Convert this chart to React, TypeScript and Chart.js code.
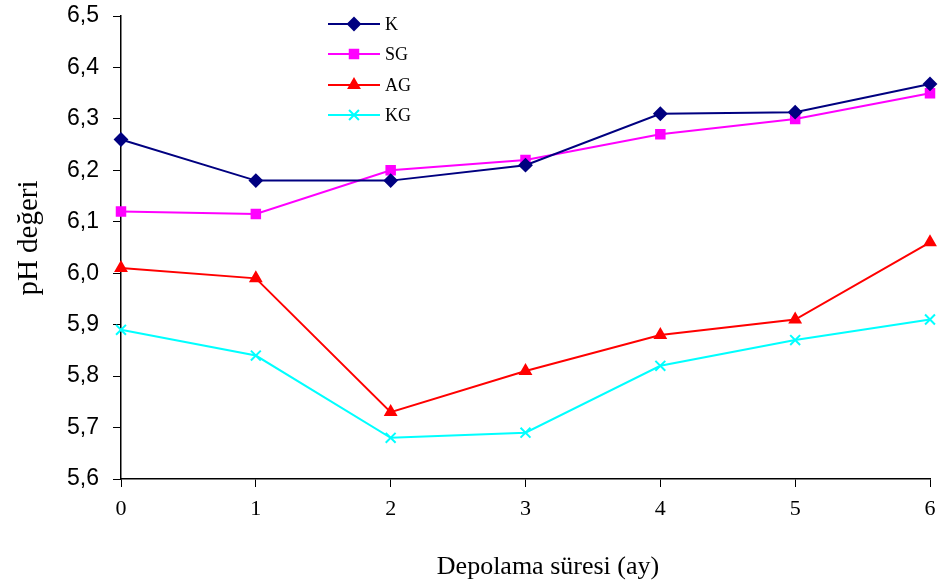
import React, { useEffect, useRef } from "react";
import { Chart, registerables, PointElement } from "chart.js";

Chart.register(...registerables);

const months = ["0", "1", "2", "3", "4", "5", "6"];
const seriesK = [6.26, 6.18, 6.18, 6.21, 6.31, 6.313, 6.368];
const seriesSG = [6.12, 6.115, 6.2, 6.22, 6.27, 6.3, 6.35];
const seriesAG = [6.01, 5.99, 5.73, 5.81, 5.88, 5.91, 6.06];
const seriesKG = [5.89, 5.84, 5.68, 5.69, 5.82, 5.87, 5.91];
const seriesNames = ["K", "SG", "AG", "KG"];
const seriesColors = ["#000080", "#FF00FF", "#FF0000", "#00FFFF"];
const seriesMarkers = ["rectRot", "rect", "triangle", "crossRot"];
const yMin = 5.6;
const yMax = 6.5;
const yStep = 0.1;
const xTitle = "Depolama süresi (ay)";
const yTitle = "pH değeri";

const legendPlugin = {
  id: "customLegend",
  afterDraw(chart: any) {
    const ctx = chart.ctx;
    const x0 = 328;
    const x1 = 380;
    const ys = [24, 54, 85, 115];
    chart.data.datasets.forEach((ds: any, i: number) => {
      const y = ys[i];
      ctx.save();
      ctx.strokeStyle = ds.borderColor;
      ctx.lineWidth = 2;
      ctx.beginPath();
      ctx.moveTo(x0, y);
      ctx.lineTo(x1, y);
      ctx.stroke();
      ctx.restore();
      const pt: any = new (PointElement as any)({});
      pt.x = (x0 + x1) / 2;
      pt.y = y;
      pt.skip = false;
      pt.options = {
        pointStyle: ds.pointStyle,
        radius: ds.pointRadius,
        rotation: 0,
        borderWidth: 2,
        backgroundColor: ds.backgroundColor,
        borderColor: ds.borderColor,
      };
      pt.draw(ctx, { left: 0, top: 0, right: 939, bottom: 587 });
      ctx.save();
      ctx.fillStyle = "#000";
      ctx.font = "18px 'Liberation Serif', serif";
      ctx.textAlign = "left";
      ctx.textBaseline = "middle";
      ctx.fillText(ds.label, x1 + 5, y + 1);
      ctx.restore();
    });
    // axis titles
    ctx.save();
    ctx.fillStyle = "#000";
    ctx.textAlign = "center";
    ctx.textBaseline = "middle";
    ctx.font = "26px 'Liberation Serif', serif";
    ctx.fillText(xTitle, 548, 567);
    ctx.translate(29, 238);
    ctx.rotate(-Math.PI / 2);
    ctx.font = "29px 'Liberation Serif', serif";
    ctx.fillText(yTitle, 0, 0);
    ctx.restore();
  },
};

export default function App() {
  const ref = useRef<HTMLCanvasElement>(null);
  useEffect(() => {
    document.body.style.margin = "0";
    const values = [seriesK, seriesSG, seriesAG, seriesKG];
    const chart = new Chart(ref.current!, {
      type: "line",
      data: {
        labels: months,
        datasets: values.map((v, i) => ({
          label: seriesNames[i],
          data: v,
          borderColor: seriesColors[i],
          backgroundColor: seriesColors[i],
          pointBackgroundColor: seriesColors[i],
          pointBorderColor: seriesColors[i],
          pointStyle: seriesMarkers[i] as any,
          pointRadius: i === 3 ? 7 : 6,
          pointBorderWidth: 2,
          borderWidth: 2,
          tension: 0,
        })),
      },
      options: {
        responsive: false,
        animation: false,
        devicePixelRatio: 1,
        layout: { padding: { left: 0, right: 8, top: 16, bottom: 0 } },
        plugins: { legend: { display: false }, tooltip: { enabled: false } },
        scales: {
          x: {
            type: "category",
            offset: false,
            grid: { display: true, drawOnChartArea: false, tickLength: 8, color: "#000", tickColor: "#000" },
            border: { color: "#000", width: 1.5 },
            ticks: { color: "#000", font: { family: "'Liberation Serif', serif", size: 22 }, padding: 9 },
            title: { display: false },
            afterFit: (s: any) => { s.height = 108; s.paddingLeft = 0; s.paddingRight = 0; },
          },
          y: {
            min: yMin,
            max: yMax,
            grid: { display: true, drawOnChartArea: false, tickLength: 8, color: "#000", tickColor: "#000" },
            border: { color: "#000", width: 1.5 },
            ticks: {
              stepSize: yStep,
              color: "#000",
              font: { family: "'Liberation Sans', Arial, sans-serif", size: 23 },
              padding: 14,
              callback: (v: any) => Number(v).toFixed(1).replace(".", ","),
            },
            title: { display: false },
            afterFit: (s: any) => { s.width = 121; s.paddingTop = 0; s.paddingBottom = 0; },
          },
        },
      },
      plugins: [legendPlugin],
    });
    return () => chart.destroy();
  }, []);
  return <canvas ref={ref} width={939} height={587} style={{ display: "block" }} />;
}
